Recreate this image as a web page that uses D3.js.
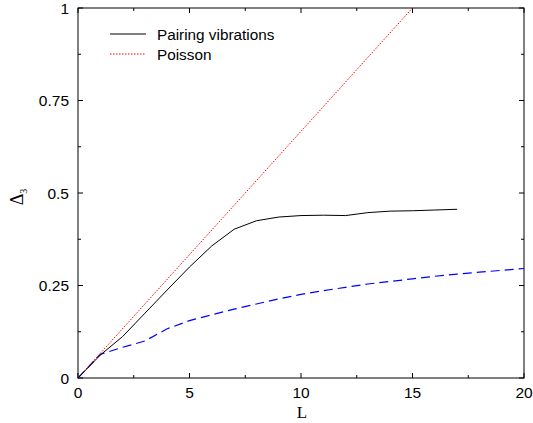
<!DOCTYPE html>
<html><head><meta charset="utf-8">
<script src="https://cdn.jsdelivr.net/npm/d3@7"></script>
<style>body{margin:0;background:#fff}svg{display:block}</style>
</head><body>
<script>
const xTicks = [0, 5, 10, 15, 20];
const yTicks = [0, 0.25, 0.5, 0.75, 1];
const yTickLabels = ["0", "0.25", "0.5", "0.75", "1"];
const pairL = [0, 1, 2, 3, 4, 5, 6, 7, 8, 9, 10, 11, 12, 13, 14, 15, 16, 17];
const pairD = [0, 0.062, 0.112, 0.175, 0.238, 0.30, 0.357, 0.402, 0.425, 0.435, 0.439, 0.440, 0.439, 0.447, 0.451, 0.452, 0.454, 0.456];
const poisL = [0, 15];
const poisD = [0, 1];
const blueL = [0, 1, 2, 3, 4, 5, 6, 7, 8, 9, 10, 11, 12, 13, 14, 15, 16, 17, 18, 19, 20];
const blueD = [0, 0.064, 0.083, 0.100, 0.133, 0.155, 0.171, 0.186, 0.200, 0.214, 0.226, 0.236, 0.245, 0.254, 0.261, 0.268, 0.275, 0.281, 0.286, 0.291, 0.296];
const legendLabels = ["Pairing vibrations", "Poisson"];

const W = 533, H = 423;
const m = {l: 78, r: 9, t: 8, b: 45};
const svg = d3.select("body").append("svg").attr("width", W).attr("height", H);
const x = d3.scaleLinear().domain([0, 20]).range([m.l, W - m.r]);
const y = d3.scaleLinear().domain([0, 1]).range([H - m.b, m.t]);
const font = "'Liberation Sans', Arial, sans-serif";
const serif = "'Liberation Serif', 'Times New Roman', serif";

// frame
svg.append("rect").attr("x", x(0)).attr("y", y(1)).attr("width", x(20) - x(0)).attr("height", y(0) - y(1))
  .attr("fill", "none").attr("stroke", "#000").attr("stroke-width", 1);

const minorX = d3.range(0, 20.01, 2.5);
const minorY = d3.range(0, 1.001, 0.125);
const g = svg.append("g").attr("stroke", "#000").attr("stroke-width", 1);
minorX.forEach(v => {
  const len = xTicks.includes(v) ? 5 : 3;
  g.append("line").attr("x1", x(v)).attr("x2", x(v)).attr("y1", y(0)).attr("y2", y(0) - len);
  g.append("line").attr("x1", x(v)).attr("x2", x(v)).attr("y1", y(1)).attr("y2", y(1) + len);
});
minorY.forEach(v => {
  const len = yTicks.some(t => Math.abs(t - v) < 1e-9) ? 5 : 3;
  g.append("line").attr("y1", y(v)).attr("y2", y(v)).attr("x1", x(0)).attr("x2", x(0) + len);
  g.append("line").attr("y1", y(v)).attr("y2", y(v)).attr("x1", x(20)).attr("x2", x(20) - len);
});

// tick labels
xTicks.forEach(v => svg.append("text").attr("x", x(v)).attr("y", y(0) + 20).attr("text-anchor", "middle")
  .attr("font-family", font).attr("font-size", 15.5).text(v));
yTicks.forEach((v, i) => svg.append("text").attr("x", x(0) - 9).attr("y", y(v) + 5.5).attr("text-anchor", "end")
  .attr("font-family", font).attr("font-size", 15.5).text(yTickLabels[i]));

// axis titles
svg.append("text").attr("x", x(10) + 1).attr("y", 418).attr("text-anchor", "middle")
  .attr("font-family", serif).attr("font-size", 17).text("L");
const yl = svg.append("text").attr("transform", "translate(23,197) rotate(-90)").attr("text-anchor", "middle")
  .attr("font-family", serif).attr("font-size", 18);
yl.append("tspan").text("Δ");
yl.append("tspan").attr("font-size", 10).attr("dy", 4).text("3");

const line = d3.line().x(d => x(d[0])).y(d => y(d[1]));
svg.append("path").datum(blueL.map((l, i) => [l, blueD[i]])).attr("d", line)
  .attr("fill", "none").attr("stroke", "#0000ff").attr("stroke-width", 1.2).attr("stroke-dasharray", "9,5");
svg.append("path").datum(poisL.map((l, i) => [l, poisD[i]])).attr("d", line)
  .attr("fill", "none").attr("stroke", "#ff0000").attr("stroke-width", 1).attr("stroke-dasharray", "1.5,1.5");
svg.append("path").datum(pairL.map((l, i) => [l, pairD[i]])).attr("d", line)
  .attr("fill", "none").attr("stroke", "#000").attr("stroke-width", 1);

// legend
const lg = svg.append("g");
[["#000", null], ["#ff0000", "1.5,1.5"]].forEach((s, i) => {
  const yy = 34 + i * 20;
  lg.append("line").attr("x1", 110).attr("x2", 146).attr("y1", yy).attr("y2", yy)
    .attr("stroke", s[0]).attr("stroke-width", 1).attr("stroke-dasharray", s[1]);
  lg.append("text").attr("x", 157).attr("y", yy + 5.5).attr("font-family", font).attr("font-size", 15.3).text(legendLabels[i]);
});
</script>
</body></html>
